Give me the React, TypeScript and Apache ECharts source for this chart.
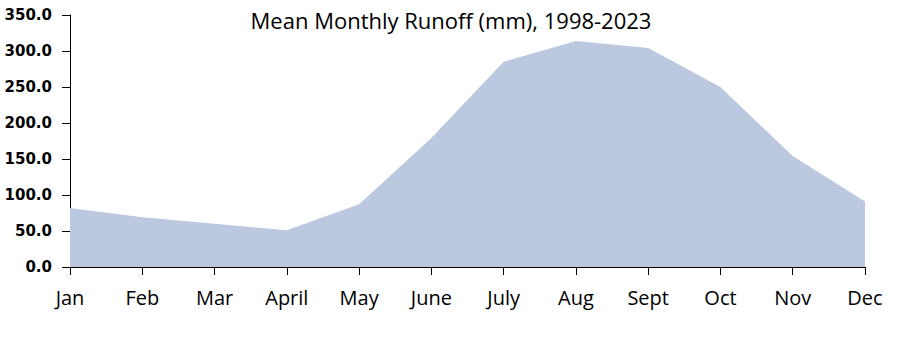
import React, { useEffect, useRef } from "react";
import * as echarts from "echarts";

const months = ["Jan", "Feb", "Mar", "April", "May", "June", "July", "Aug", "Sept", "Oct", "Nov", "Dec"];
const runoff = [82, 69, 60, 51, 87, 179, 285, 314, 304, 250, 154, 91];
const yTicks = { min: 0, max: 350, interval: 50 };
const title = "Mean Monthly Runoff (mm), 1998-2023";

export default function App() {
  const ref = useRef<HTMLDivElement>(null);
  useEffect(() => {
    if (!ref.current) return;
    const chart = echarts.init(ref.current, undefined, { renderer: "svg" });
    chart.setOption({
      animation: false,
      backgroundColor: "#ffffff",
      title: {
        text: title,
        left: 446,
        textAlign: "center",
        top: 4,
        textStyle: { fontFamily: "Open Sans", fontSize: 22, fontWeight: "normal", color: "#000" },
      },
      grid: { left: 70, right: 32, top: 15, bottom: 70 },
      xAxis: {
        type: "category",
        data: months,
        boundaryGap: false,
        axisLine: { lineStyle: { color: "#000", width: 1 } },
        axisTick: { show: true, length: 8, alignWithLabel: true, lineStyle: { color: "#000" } },
        axisLabel: { margin: 20, fontFamily: "Open Sans", fontSize: 20, color: "#000", interval: 0 },
        splitLine: { show: false },
      },
      yAxis: {
        type: "value",
        min: yTicks.min,
        max: yTicks.max,
        interval: yTicks.interval,
        axisLine: { show: true, lineStyle: { color: "#000", width: 1 } },
        axisTick: { show: true, length: 8, lineStyle: { color: "#000" } },
        axisLabel: {
          margin: 18,
          fontFamily: "DejaVu Sans",
          fontWeight: "bold",
          fontSize: 15,
          color: "#000",
          formatter: (v: number) => v.toFixed(1),
        },
        splitLine: { show: false },
      },
      series: [
        {
          type: "line",
          data: runoff,
          symbol: "none",
          lineStyle: { width: 0 },
          areaStyle: { color: "#BCC8E0", opacity: 1 },
        },
      ],
    });
    return () => chart.dispose();
  }, []);
  return <div ref={ref} style={{ width: 897, height: 337, position: "absolute", left: 0, top: 0 }} />;
}
